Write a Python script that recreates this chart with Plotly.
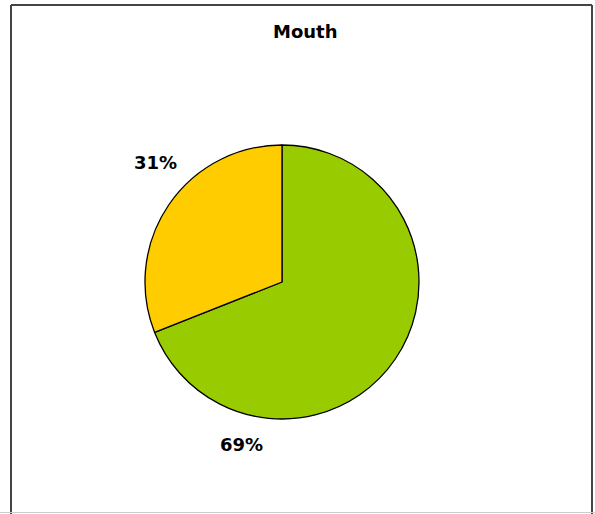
import plotly.graph_objects as go

labels = ["Green", "Yellow"]
values = [69, 31]
colors = ["#99CC00", "#FFCC00"]
title_text = "Mouth"

W, H = 595, 514
cx, cy, r = 282, 282, 137

fig = go.Figure(go.Pie(
    labels=labels, values=values, sort=False, direction="clockwise", rotation=0,
    marker=dict(colors=colors, line=dict(color="#000000", width=1.3)),
    textinfo="none", hoverinfo="label+percent", showlegend=False,
    domain=dict(x=[(cx - r) / W, (cx + r) / W], y=[(H - cy - r) / H, (H - cy + r) / H]),
))

total = sum(values)
pct = [f"{round(v / total * 100)}%" for v in values]
label_pos = [(241, 444), (155, 162)]
font = dict(family="DejaVu Sans", size=18, color="#000000")
anns = [dict(x=px / W, y=1 - py / H, xref="paper", yref="paper", text=f"<b>{t}</b>",
             showarrow=False, font=font, xanchor="center", yanchor="middle")
        for t, (px, py) in zip(pct, label_pos)]
anns.append(dict(x=305 / W, y=1 - 31 / H, xref="paper", yref="paper", text=f"<b>{title_text}</b>",
                 showarrow=False, font=font, xanchor="center", yanchor="middle"))

shapes = [
    dict(type="line", xref="paper", yref="paper", x0=11 / W, x1=11 / W, y0=0, y1=1 - 5 / H,
         line=dict(color="#444444", width=2)),
    dict(type="line", xref="paper", yref="paper", x0=11 / W, x1=592 / W, y0=1 - 5 / H, y1=1 - 5 / H,
         line=dict(color="#444444", width=2)),
    dict(type="line", xref="paper", yref="paper", x0=592 / W, x1=592 / W, y0=0, y1=1 - 5 / H,
         line=dict(color="#444444", width=2)),
    dict(type="line", xref="paper", yref="paper", x0=0, x1=1, y0=1.5 / H, y1=1.5 / H,
         line=dict(color="#CCCCCC", width=1)),
]

fig.update_layout(width=W, height=H, margin=dict(l=0, r=0, t=0, b=0),
                  paper_bgcolor="white", plot_bgcolor="white",
                  annotations=anns, shapes=shapes)
fig.write_html("out.html", post_script="document.body.style.margin='0';",
               config={"displayModeBar": False})
